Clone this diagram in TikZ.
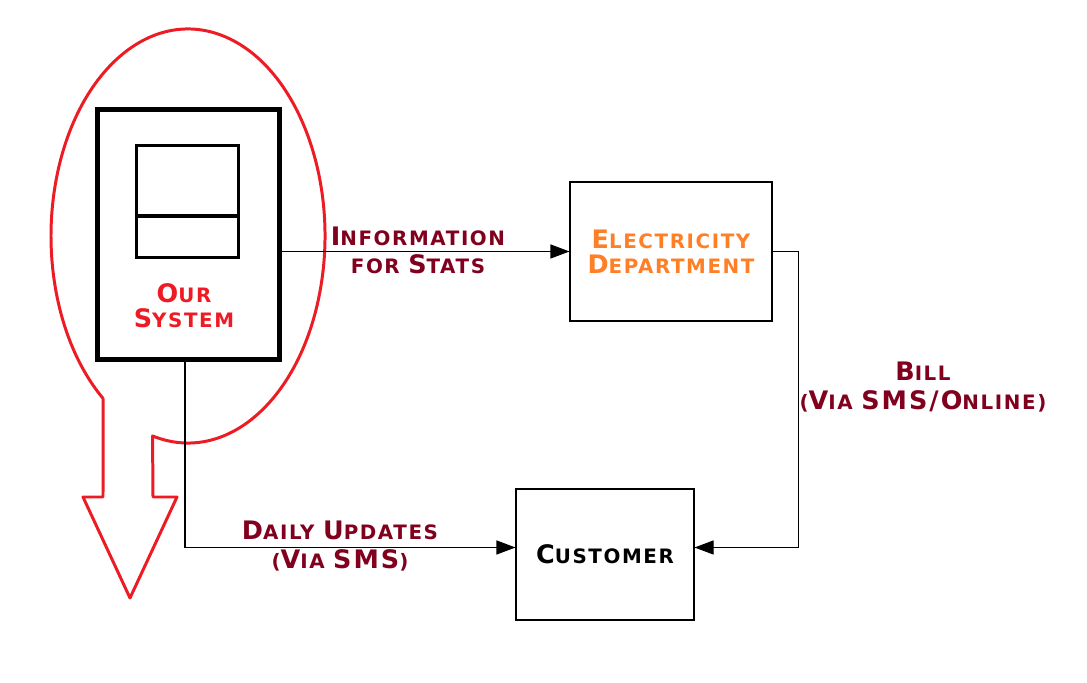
\documentclass[tikz,border=0pt]{standalone}
\usepackage{fontspec}
\usepackage{tikz}
\usetikzlibrary{calc,arrows.meta}
\newfontfamily\cpfont[LetterSpace=8]{DejaVu Sans}
\definecolor{wine}{RGB}{128,0,30}
\definecolor{paintred}{RGB}{237,28,36}
\definecolor{paintorange}{RGB}{255,127,39}
\newcommand{\capl}[2]{{\fontsize{14.5}{15}\selectfont #1}#2}
\tikzset{
lbl/.style={font=\cpfont\bfseries\fontsize{11.3}{15}\selectfont, align=center},
box/.style={draw=black, line width=0.6pt, minimum width=#1},
flow/.style={line width=0.6pt, -{Triangle[length=0.38cm, width=0.28cm]}}
}

\begin{document}
\begin{tikzpicture}
\useasboundingbox (0,0) rectangle (21.74,13.66);
\coordinate (ec) at (3.76,8.94);
\draw[paintred, line width=1.7pt, line join=round] ($(ec)+(231.7:2.74 and 4.14)$) -- (2.06,3.72) -- (1.66,3.72) -- (2.60,1.70) -- (3.54,3.72) -- (3.06,3.72) -- ($(ec)+(255:2.74 and 4.14)$) arc[start angle=255, end angle=591.7, x radius=2.74, y radius=4.14];
\node[draw, line width=2.8pt, minimum width=3.64cm, minimum height=5.0cm] (sys) at (3.77,8.97) {};
\node[draw, line width=2.2pt, minimum width=2.04cm, minimum height=2.24cm] (scr) at (3.75,9.63) {};
\draw[line width=2.2pt] ([yshift=0.86cm]scr.south west) -- ([yshift=0.86cm]scr.south east);
\node[lbl, text=paintred] (syslbl) at (3.68,7.54) {\capl{O}{UR}\\[-1pt]\capl{S}{YSTEM}};
\node[box=4.04cm, minimum height=2.78cm, lbl, text=paintorange] (elec) at (13.42,8.63) {\capl{E}{LECTRICITY}\\[-1pt]\capl{D}{EPARTMENT}};
\node[box=3.56cm, minimum height=2.62cm, lbl] (cust) at (12.10,2.57) {\capl{C}{USTOMER}};
\draw[flow] ([xshift=-0.07cm]sys.south) |- ([yshift=0.14cm]cust.west);
\draw[flow] (sys.east |- elec.west) -- (elec.west);
\draw[flow] (elec.east) -- ++(0.52,0) |- ([yshift=0.14cm]cust.east);
\node[lbl, text=wine] (infolbl) at (8.36,8.66) {\capl{I}{NFORMATION}\\[1pt]\capl{}{FOR} \capl{S}{TATS}};
\node[lbl, text=wine] (billlbl) at (18.46,5.92) {\capl{B}{ILL}\\[1pt](\capl{V}{IA} \capl{SMS/O}{NLINE})};
\node[lbl, text=wine] (dailylbl) at (6.80,2.74) {\capl{D}{AILY} \capl{U}{PDATES}\\[1pt](\capl{V}{IA} \capl{SMS}{})};
\end{tikzpicture}
\end{document}
